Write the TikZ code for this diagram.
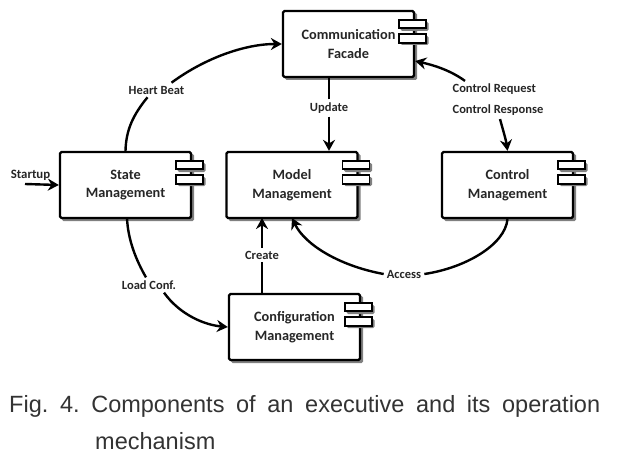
\documentclass[tikz,border=0pt]{standalone}
\usepackage{fontspec}
\setmainfont{Carlito}
\newfontfamily\capfont{Liberation Sans}
\usetikzlibrary{arrows.meta,calc}
\tikzset{
  comp/.style={draw=black,line width=2.3pt,fill=white,rounded corners=1.5pt,minimum width=131pt,minimum height=66pt,inner sep=0pt,
    align=center,font=\fontsize{14.3}{18.5}\selectfont\bfseries,text=black!85},
  lbl/.style={fill=white,inner sep=3pt,font=\fontsize{12.5}{21}\selectfont\bfseries,text=black!85,align=left},
  link/.style={line width=2.4pt,-{Stealth[length=11pt,width=12pt]}},
  plain/.style={line width=2.4pt},
  tab/.style={draw=black,line width=1.8pt,fill=white,minimum width=27pt,minimum height=8.5pt,inner sep=0pt},
  shade/.style={fill=black!50,draw=none,rounded corners=1.5pt},
  captext/.style={anchor=base west,inner sep=0pt,font=\capfont\fontsize{23.5}{30}\selectfont,text=black!80}
}
\newcommand{\component}[4]{%
  % name, centre x, centre y, label
  \fill[shade] (#2-63.5,#3-31) rectangle (#2+68.5,#3+36);
  \node[comp] (#1) at (#2,#3) {#4};
  \fill[shade] (#2+52,#3-22) rectangle (#2+80,#3-13);
  \fill[shade] (#2+52,#3-8) rectangle (#2+80,#3+1);
  \node[tab] (#1t1) at (#2+64,#3-20) {};
  \node[tab] (#1t2) at (#2+64,#3-5.5) {};
}
\begin{document}
\begin{tikzpicture}[x=1pt,y=-1pt]
\useasboundingbox (0,0) rectangle (617,457);
\fill[white] (0,0) rectangle (617,457);

\component{comm}{348.5}{44}{Communication\\Facade}
\component{state}{125.5}{185}{State\\Management}
\component{model}{292}{185}{Model\\Management}
\component{control}{507.5}{185}{Control\\Management}
\component{config}{294.5}{327}{Configuration\\Management}

% startup entry
\coordinate (startin) at (25,184);
\draw[link] (startin) -- (state.west);
\node[font=\fontsize{12.8}{14}\selectfont\bfseries,text=black!85,inner sep=0pt] (startup) at (30.5,175) {Startup};

% heart beat
\node[lbl] (heart) at (156.5,90) {Heart Beat};
\draw[plain] (state.north) .. controls (126,130) and (133,115) .. ($(heart.south)+(-9,0)$);
\draw[link] ($(heart.north)+(15,0)$) .. controls (205,58) and (245,44) .. (comm.west);

% update
\node[lbl] (update) at (329,108) {Update};
\draw[plain] (update.north) -- (update.north |- comm.south);
\draw[link] (update.south) -- (update.south |- model.north);

% control request and response
\node[lbl] (ctrl) at (498,100) {Control Request\\Control Response};
\draw[link] ($(ctrl.north)+(-33,0)$) .. controls (450,70) and (433,65) .. (comm.east |- 0,61);
\draw[link] ($(ctrl.south)+(2,0)$) .. controls (503,130) and (506,140) .. (control.north);

% access
\node[lbl] (access) at (404,274) {Access};
\draw[plain] (control.south) .. controls (505,245) and (465,268) .. (access.east);
\draw[link] (access.west) .. controls (340,266) and (305,245) .. (292,218);

% create
\node[lbl] (create) at (262,255) {Create};
\draw[plain] (262,293) -- (create.south);
\draw[link] (create.north) -- (262,218);

% load configuration
\node[lbl] (load) at (149,285) {Load Conf.};
\draw[plain] (127,218) .. controls (128,240) and (136,260) .. ($(load.north)+(-3,0)$);
\draw[link] ($(load.south)+(15,0)$) .. controls (180,315) and (205,325) .. (config.west);

\node[captext] (cap1) at (9,412)
  {\makebox[591pt][s]{Fig.\hfill 4.\hfill Components\hfill of\hfill an\hfill executive\hfill and\hfill its\hfill operation}};
\node[captext] (cap2) at (95,449) {mechanism};
\end{tikzpicture}
\end{document}
